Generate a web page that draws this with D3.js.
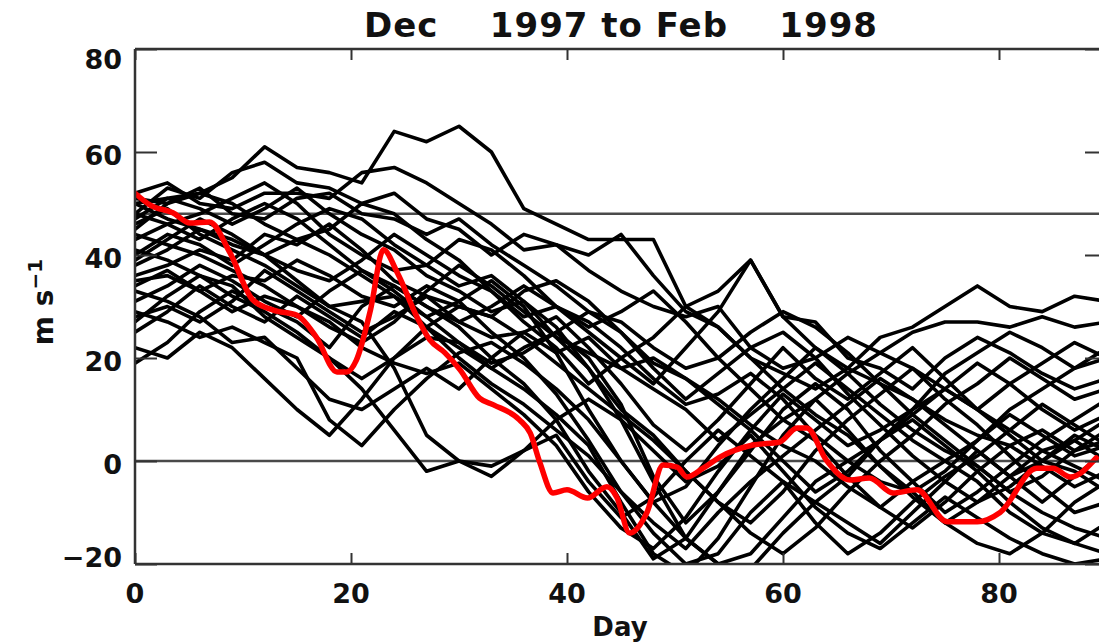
<!DOCTYPE html>
<html>
<head>
<meta charset="utf-8">
<script src="https://cdn.jsdelivr.net/npm/d3@7"></script>
<style>
  html, body { margin: 0; padding: 0; background: #fff; }
  svg { display: block; }
  text { font-family: "DejaVu Sans", sans-serif; font-weight: bold; fill: #111; }
</style>
</head>
<body>
<svg id="chart" width="1099" height="644"></svg>
<script>
// ---------- data ----------
const titleText = "Dec    1997 to Feb    1998";
const xLabel = "Day";
const xTicks = [0, 20, 40, 60, 80];
const yTicks = [-20, 0, 20, 40, 60, 80];
const refLines = [0, 48];

// ensemble members sampled every 3 days
const days = [0,3,6,9,12,15,18,21,24,27,30,33,36,39,42,45,48,51,54,57,60,63,66,69,72,75,78,81,84,87,90];
const member01 = [50,51,52,55,61,57,56,54,64,62,65,60,49,46,43,43,43,30,33,39,28,22,18,15,12,8,5,3,6,2,4];
const member02 = [48,53,51,56,58,54,53,50,52,47,45,40,44,42,40,44,36,29,26,20,17,14,18,24,26,30,34,30,29,32,31];
const member03 = [52,54,50,49,52,52,51,56,57,54,50,46,41,42,37,33,30,28,30,22,18,20,24,21,25,27,27,26,28,26,27];
const member04 = [45,50,53,48,47,51,52,48,47,44,47,42,38,34,29,25,19,16,12,7,3,0,-5,-9,-4,0,4,10,14,18,22];
const member05 = [47,51,49,46,49,53,48,44,41,36,33,29,31,24,18,10,5,-2,-8,-12,-6,2,8,13,18,14,10,5,0,-2,-6];
const member06 = [43,46,48,51,54,50,44,40,37,38,43,41,36,30,26,29,33,27,20,14,8,12,17,21,18,12,7,1,-5,-10,-8];
const member07 = [40,44,42,38,42,46,49,47,42,38,34,36,31,26,18,8,-4,-15,-20,-21,-14,-8,-3,4,10,14,10,6,2,4,8];
const member08 = [38,41,45,42,40,37,35,39,44,40,36,33,27,22,15,20,24,30,26,20,14,9,5,-1,-7,-12,-16,-18,-14,-8,-4];
const member09 = [36,38,41,39,44,42,46,41,35,32,30,28,33,35,31,25,18,12,17,22,25,20,13,7,1,-4,-8,-5,0,5,2];
const member10 = [35,36,33,36,35,39,36,32,30,34,31,25,20,13,4,-6,-14,-20,-18,-10,-4,-12,-18,-14,-8,-3,1,6,11,7,3];
const member11 = [31,34,38,35,31,28,33,37,33,28,31,35,30,21,10,0,-8,-5,3,10,16,22,17,11,6,2,-1,-6,-10,-13,-15];
const member12 = [28,30,27,31,37,33,29,25,28,32,27,24,25,28,22,15,7,2,8,15,22,16,12,17,22,16,10,15,19,23,20];
const member13 = [25,29,34,30,27,32,28,24,29,26,22,18,22,25,20,11,-3,-12,-6,3,8,4,-3,-9,-13,-8,-2,3,-1,-5,-2];
const member14 = [22,20,25,22,16,10,5,12,20,24,23,18,14,9,3,-8,-18,-22,-15,-5,5,12,6,-1,-6,-2,4,9,5,1,3];
const member15 = [19,23,29,33,30,27,22,30,34,30,26,20,15,8,-2,-10,-19,-15,-6,2,10,15,10,2,-4,-10,-6,-1,4,8,12];
const member16 = [29,27,24,26,23,20,8,3,10,16,21,23,19,14,8,0,-8,-15,-20,-18,-11,-4,0,4,8,3,-2,-8,-13,-16,-12];
const member17 = [33,31,28,23,24,18,12,10,14,18,14,20,25,21,24,18,14,10,4,9,14,19,14,9,4,0,-4,-10,-14,-16,-18];
const member18 = [46,49,44,41,38,34,30,27,18,5,0,-3,2,5,-4,-11,-7,0,6,1,-4,-8,-12,-16,-10,-4,2,-3,-8,-3,2];
const member19 = [50,47,45,43,40,35,30,31,32,26,20,15,11,6,1,-6,-12,-17,-10,-4,1,6,11,16,12,7,2,-3,0,4,0];
const member20 = [44,42,40,37,34,30,26,23,27,33,38,34,29,24,21,18,20,16,11,6,0,-6,-2,4,9,14,19,15,10,6,9];
const member21 = [41,39,36,34,28,24,20,16,20,26,30,28,24,19,14,9,4,-2,-8,-14,-18,-13,-6,0,5,11,15,20,16,12,14];
const member22 = [39,43,47,44,40,43,40,36,32,28,23,19,21,25,29,27,22,18,20,25,29,26,21,15,9,4,-1,-6,-3,2,6];
const member23 = [48,46,43,47,50,47,42,37,34,30,27,30,34,30,25,20,15,22,29,39,28,27,20,18,14,20,24,21,17,14,16];
const member24 = [51,50,52,50,46,43,45,50,48,43,39,33,28,30,27,22,16,11,13,17,12,5,0,-4,-6,-12,-8,-3,2,-1,-4];
const member25 = [27,32,36,32,29,25,20,14,6,-2,0,-1,2,8,12,8,2,-4,-1,5,-2,-9,-14,-17,-12,-7,-11,-15,-18,-20,-19];
const member26 = [34,37,33,29,32,30,27,22,19,17,19,14,9,3,-6,-13,-17,-11,-2,6,13,8,3,6,10,17,21,25,22,18,20];
const members = [member01,member02,member03,member04,member05,member06,member07,member08,member09,member10,
  member11,member12,member13,member14,member15,member16,member17,member18,member19,member20,
  member21,member22,member23,member24,member25,member26];

// observed (red) series
const redDays = [0,1.4,3.5,5.1,6.9,8.8,10.9,12.8,15,16.8,18.7,19.6,20.5,21.8,23,24.3,26.1,27.3,28.7,30.1,31.9,33.2,35.6,36.6,37.5,38.7,40,41.9,43.7,44.6,45.8,47.4,48.9,50.2,51.1,52.6,54.2,57.2,59.7,61.3,62.2,64,66.2,68,70.2,72.4,75.2,78,80.1,83.5,85,86.6,89];
const redValues = [52,49.7,48.2,46.2,46.4,40.4,31.3,29.3,28.3,24,17.3,17.3,19.6,29.3,41,36.5,28,23.5,21,17.7,12.2,10.9,8,5.4,-0.4,-6.2,-5.6,-7.2,-5,-7,-14,-10,-0.8,-1.2,-3.1,-1.4,0.8,3.1,3.7,6.4,6.4,0.2,-3.7,-3.3,-6.2,-5.6,-11.8,-11.8,-10,-1.4,-1.4,-3.1,0.6];

(function () {
// ---------- layout ----------
const svg = d3.select("#chart");
const pL = 135, pR = 1107, pT = 49, pB = 564;
const x = d3.scaleLinear().domain([0, 90]).range([pL, pR]);
const y = d3.scaleLinear().domain([-20, 80]).range([pB, pT]);
const axisColor = "#333";

svg.append("defs").append("clipPath").attr("id", "plotclip")
  .append("rect").attr("x", pL).attr("y", pT).attr("width", pR - pL).attr("height", pB - pT);

const plot = svg.append("g").attr("clip-path", "url(#plotclip)");

// reference lines
plot.selectAll("line.ref").data(refLines).enter().append("line")
  .attr("class", "ref")
  .attr("x1", pL).attr("x2", pR)
  .attr("y1", d => y(d)).attr("y2", d => y(d))
  .attr("stroke", "#4a4a4a").attr("stroke-width", 2.5);

const line = d3.line().x((d, i) => x(days[i])).y(d => y(d));
plot.selectAll("path.member").data(members).enter().append("path")
  .attr("class", "member")
  .attr("d", line)
  .attr("fill", "none").attr("stroke", "#000").attr("stroke-width", 3.6)
  .attr("stroke-linejoin", "round");

const redLine = d3.line().x((d, i) => x(redDays[i])).y(d => y(d)).curve(d3.curveMonotoneX);
plot.append("path").datum(redValues)
  .attr("d", redLine)
  .attr("fill", "none").attr("stroke", "#ff0000").attr("stroke-width", 5.5)
  .attr("stroke-linejoin", "round").attr("stroke-linecap", "round");

// ---------- axes (IDL-style box) ----------
const frame = svg.append("g");
const xMinor = d3.range(0, 91, 5);
const yMinor = d3.range(-20, 81, 5);

[pB, pT].forEach((yy, k) => {
  const g = frame.append("g").attr("transform", `translate(0,${yy})`);
  g.call(d3.axisBottom(x).tickValues(xMinor).tickSize(k === 0 ? -6 : 6).tickFormat(""))
    .call(s => s.select(".domain").remove());
  g.call(d3.axisBottom(x).tickValues(xTicks).tickSize(k === 0 ? -11 : 11).tickFormat(""))
    .call(s => s.select(".domain").remove());
  g.append("line").attr("x1", pL).attr("x2", pR).attr("stroke", axisColor).attr("stroke-width", 2.5);
});
[pL, pR].forEach((xx, k) => {
  const g = frame.append("g").attr("transform", `translate(${xx},0)`);
  g.call(d3.axisLeft(y).tickValues(yMinor).tickSize(k === 0 ? -12 : 12).tickFormat(""))
    .call(s => s.select(".domain").remove());
  g.call(d3.axisLeft(y).tickValues(yTicks).tickSize(k === 0 ? -22 : 22).tickFormat(""))
    .call(s => s.select(".domain").remove());
  g.append("line").attr("y1", pT).attr("y2", pB).attr("stroke", axisColor).attr("stroke-width", 2.5);
});
frame.selectAll(".tick line").attr("stroke", axisColor).attr("stroke-width", 2);

// tick labels
svg.append("g").selectAll("text").data(xTicks).enter().append("text")
  .attr("x", d => x(d)).attr("y", 603)
  .attr("text-anchor", "middle").attr("font-size", 27)
  .text(d => d);
svg.append("g").selectAll("text").data(yTicks).enter().append("text")
  .attr("x", 122)
  .attr("y", d => Math.max(59, Math.min(557, y(d) + 3)) + 10)
  .attr("text-anchor", "end").attr("font-size", 27)
  .text(d => d < 0 ? "\u2212" + Math.abs(d) : d);

// title
svg.append("text").attr("x", (pL + pR) / 2).attr("y", 37)
  .attr("text-anchor", "middle").attr("font-size", 34)
  .style("white-space", "pre").attr("letter-spacing", 1)
  .text(titleText);

// x label
svg.append("text").attr("x", 620).attr("y", 636)
  .attr("text-anchor", "middle").attr("font-size", 26)
  .text(xLabel);

// y label
const yl = svg.append("text").attr("transform", "translate(53,302) rotate(-90)")
  .attr("text-anchor", "middle").attr("font-size", 28);
yl.append("tspan").text("m s");
yl.append("tspan").attr("dy", -11).attr("font-size", 20).text("\u22121");
})();
</script>
</body>
</html>
